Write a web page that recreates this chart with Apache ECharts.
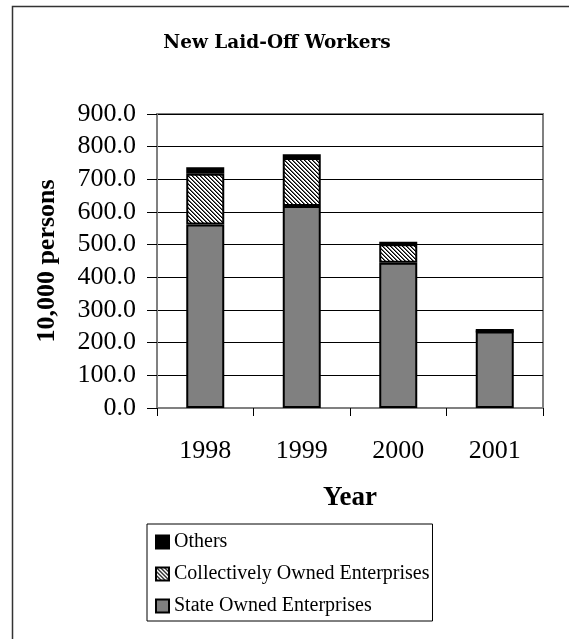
<!DOCTYPE html>
<html>
<head>
<meta charset="utf-8">
<script src="https://cdn.jsdelivr.net/npm/echarts@6/dist/echarts.min.js"></script>
<style>
  html, body { margin: 0; padding: 0; background: #fff; }
  #chart { width: 569px; height: 639px; }
</style>
</head>
<body>
<div id="chart"></div>
<script>
// New laid-off workers by enterprise ownership, in units of 10,000 persons
const years = ['1998', '1999', '2000', '2001'];
const stateOwned = [562, 618, 445, 234];
const collectivelyOwned = [155, 147, 56, 0];
const others = [20, 12, 8, 8];
const yTicks = { min: 0, max: 900, interval: 100 };

const serif = 'Liberation Serif, Times New Roman, serif';

// Diagonal hatch tile ("\\\\" strokes) used for the collective series
function hatchTile() {
  const c = document.createElement('canvas');
  c.width = 4; c.height = 4;
  const ctx = c.getContext('2d');
  ctx.fillStyle = '#fff';
  ctx.fillRect(0, 0, 4, 4);
  for (let y = 0; y < 4; y++) {
    for (let x = 0; x < 4; x++) {
      const d = ((x - y) % 4 + 4) % 4;
      if (d === 0) { ctx.fillStyle = '#000'; ctx.fillRect(x, y, 1, 1); }
      else if (d === 1) { ctx.fillStyle = 'rgba(0,0,0,0.6)'; ctx.fillRect(x, y, 1, 1); }
    }
  }
  return c;
}

const chart = echarts.init(document.getElementById('chart'), null, { renderer: 'canvas' });

const barBorder = { borderColor: '#000', borderWidth: 2 };

chart.setOption({
  backgroundColor: '#fff',
  animation: false,
  graphic: [
    {
      type: 'rect',
      z: -1,
      shape: { x: 12.5, y: 6.5, width: 700, height: 700 },
      style: { fill: 'none', stroke: '#333', lineWidth: 1.5 }
    },
    {
      type: 'text',
      x: 277,
      y: 43,
      style: {
        text: 'New Laid-Off Workers',
        fontFamily: 'DejaVu Serif, Georgia, serif',
        fontWeight: 'bold',
        fontSize: 18.5,
        fill: '#000',
        align: 'center',
        verticalAlign: 'middle'
      }
    }
  ],
  grid: {
    left: 157, right: 26, top: 114, bottom: 231,
    show: true,
    borderColor: '#808080',
    borderWidth: 2,
    backgroundColor: 'transparent'
  },
  legend: {
    orient: 'vertical',
    left: 147,
    top: 524,
    padding: [8, 3, 5, 8],
    borderColor: '#000',
    borderWidth: 1,
    itemWidth: 13,
    itemHeight: 13,
    itemGap: 12,
    icon: 'rect',
    itemStyle: { borderColor: '#000', borderWidth: 2 },
    textStyle: { fontFamily: serif, fontSize: 20, lineHeight: 20, color: '#000' },
    data: ['Others', 'Collectively Owned Enterprises', 'State Owned Enterprises']
  },
  xAxis: {
    type: 'category',
    data: years,
    boundaryGap: true,
    name: 'Year',
    nameLocation: 'middle',
    nameGap: 76,
    nameTextStyle: { fontFamily: serif, fontSize: 27, fontWeight: 'bold', color: '#000', lineHeight: 28 },
    axisLine: { lineStyle: { color: '#808080', width: 2 } },
    axisTick: { show: true, alignWithLabel: false, length: 8, lineStyle: { color: '#000', width: 1 } },
    axisLabel: { margin: 30, fontFamily: serif, fontSize: 26, color: '#000', lineHeight: 26 },
    splitLine: { show: false }
  },
  yAxis: {
    type: 'value',
    min: yTicks.min,
    max: yTicks.max,
    interval: yTicks.interval,
    name: '10,000 persons',
    nameLocation: 'middle',
    nameGap: 97,
    nameTextStyle: { fontFamily: serif, fontSize: 26, fontWeight: 'bold', color: '#000' },
    axisLine: { show: true, lineStyle: { color: '#808080', width: 2 } },
    axisTick: { show: true, length: 10, lineStyle: { color: '#000', width: 1 } },
    axisLabel: {
      margin: 21,
      fontFamily: serif,
      fontSize: 26,
      color: '#000',
      formatter: v => v.toFixed(1)
    },
    splitLine: { show: true, lineStyle: { color: '#000', width: 1 } }
  },
  series: [
    {
      name: 'State Owned Enterprises',
      type: 'bar',
      stack: 'total',
      barWidth: 38,
      data: stateOwned,
      itemStyle: Object.assign({ color: '#808080' }, barBorder)
    },
    {
      name: 'Collectively Owned Enterprises',
      type: 'bar',
      stack: 'total',
      barWidth: 38,
      data: collectivelyOwned,
      itemStyle: Object.assign({ color: { image: hatchTile(), repeat: 'repeat' } }, barBorder)
    },
    {
      name: 'Others',
      type: 'bar',
      stack: 'total',
      barWidth: 38,
      data: others,
      itemStyle: Object.assign({ color: '#000' }, barBorder)
    }
  ]
});
</script>
</body>
</html>
